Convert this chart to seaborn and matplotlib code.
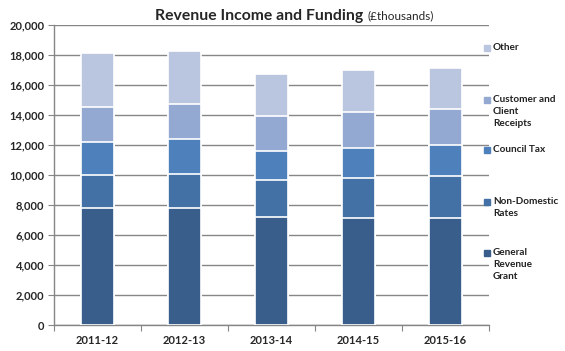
import numpy as np
import pandas as pd
import matplotlib
matplotlib.use("Agg")
import matplotlib.pyplot as plt
import seaborn as sns

years = ["2011-12", "2012-13", "2013-14", "2014-15", "2015-16"]
general_revenue_grant = [7780, 7780, 7180, 7110, 7110]
non_domestic_rates = [2200, 2260, 2470, 2670, 2820]
council_tax = [2240, 2340, 1930, 2000, 2050]
customer_receipts = [2290, 2330, 2330, 2400, 2400]
other = [3640, 3580, 2840, 2840, 2770]

series = ["General\nRevenue\nGrant", "Non-Domestic\nRates", "Council Tax",
          "Customer and\nClient\nReceipts", "Other"]
colors = ["#3A5E8C", "#4371A6", "#4E80BC", "#94A9D1", "#BAC6E0"]

df = pd.DataFrame({"year": years,
                   series[0]: general_revenue_grant,
                   series[1]: non_domestic_rates,
                   series[2]: council_tax,
                   series[3]: customer_receipts,
                   series[4]: other})
cum = df[series].cumsum(axis=1)

sns.set_style("white")
plt.rcParams['font.family'] = ['Lato', 'DejaVu Sans']

fig = plt.figure(figsize=(5.65, 3.51), dpi=100)
ax = fig.add_axes([54 / 565, 26 / 351, 435 / 565, 300 / 351])

# stacked look: draw cumulative totals, biggest first
for s, c in reversed(list(zip(series, colors))):
    sns.barplot(x=df["year"], y=cum[s], color=c, width=0.39, saturation=1,
                edgecolor="white", linewidth=1.2, ax=ax, zorder=3)

ax.set_ylim(0, 20000)
ax.set_yticks(np.arange(0, 20001, 2000))
ax.set_yticklabels([f"{v:,}" for v in range(0, 20001, 2000)])
ax.yaxis.grid(True, color="#868686", linewidth=1)
ax.set_axisbelow(True)
ax.set_xlabel("")
ax.set_ylabel("")
ax.set_xlim(-0.5, 4.5)

# ticks at category boundaries
ax.set_xticks(np.arange(-0.5, 5, 1), minor=False)
ax.set_xticklabels([""] * 6)
ax.set_xticks(np.arange(5), minor=True)
ax.set_xticklabels(years, minor=True, fontsize=8, fontweight="bold")
ax.tick_params(axis="x", which="minor", length=0, pad=7)
ax.tick_params(axis="x", which="major", length=4, color="#868686", direction="out", bottom=True)
ax.tick_params(axis="y", length=4, color="#868686", direction="out", left=True, labelsize=8, pad=3)
for lab in ax.get_yticklabels():
    lab.set_fontweight("bold")

for side in ["top", "right"]:
    ax.spines[side].set_visible(False)
for side in ["left", "bottom"]:
    ax.spines[side].set_color("#868686")
    ax.spines[side].set_linewidth(1)

# legend drawn by hand, next to the plot
leg_y = [48, 100, 150, 202, 253]
for name, c, yy in zip(reversed(series), reversed(colors), leg_y):
    fig.patches.append(plt.Rectangle((484 / 565, 1 - (yy + 3) / 351), 6 / 565, 6 / 351,
                                     transform=fig.transFigure, color=c, figure=fig))
    fig.text(493 / 565, 1 - (yy - 5) / 351, name, fontsize=7.2, fontweight="bold",
             va="top", ha="left", linespacing=1.45, color="#222222")

fig.text(363 / 565, 1 - 16 / 351, "Revenue Income and Funding", fontsize=11.3,
         fontweight="bold", ha="right", va="center")
fig.text(368 / 565, 1 - 16 / 351, "(£thousands)", fontsize=8.5, ha="left", va="center")

fig.savefig("out.png", dpi=100)
